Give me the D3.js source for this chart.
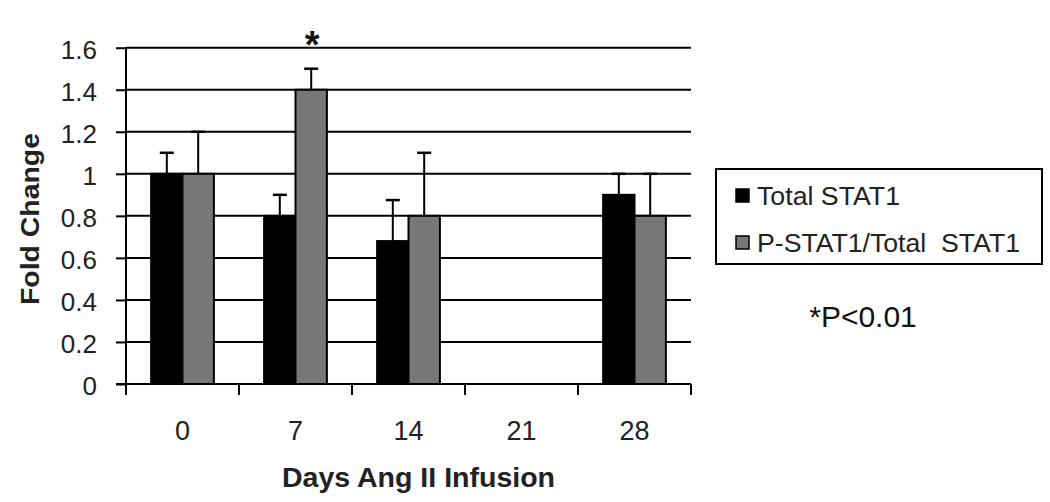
<!DOCTYPE html>
<html>
<head>
<meta charset="utf-8">
<script src="https://cdn.jsdelivr.net/npm/d3@7"></script>
<style>
  body { margin: 0; background: #fff; }
  svg { display: block; font-family: "Liberation Sans", Arial, sans-serif; }
</style>
</head>
<body>
<div id="chart"></div>
<script>
var svgWidth = 1050;
var svgHeight = 502;

var margin = { top: 47.7, right: 359, bottom: 118, left: 126 };
var width = svgWidth - margin.left - margin.right;
var height = svgHeight - margin.top - margin.bottom;

// data
var days = ["0", "7", "14", "21", "28"];
var seriesNames = ["Total STAT1", "P-STAT1/Total  STAT1"];
var totalStat1 = [1.0, 0.8, 0.68, 0, 0.9];
var totalStat1Err = [0.1, 0.1, 0.195, 0, 0.1];
var pStat1 = [1.0, 1.4, 0.8, 0, 0.8];
var pStat1Err = [0.2, 0.1, 0.3, 0, 0.2];
var yTicks = [0, 0.2, 0.4, 0.6, 0.8, 1, 1.2, 1.4, 1.6];
var starDay = "7";

var colors = ["#000000", "#777777"];

var rows = days.map(function(d, i) {
  return {
    day: d,
    values: [
      { s: 0, v: totalStat1[i], e: totalStat1Err[i] },
      { s: 1, v: pStat1[i], e: pStat1Err[i] }
    ]
  };
});

var svg = d3.select("#chart")
  .append("svg")
  .attr("width", svgWidth)
  .attr("height", svgHeight);

var chartGroup = svg.append("g")
  .attr("transform", `translate(${margin.left}, ${margin.top})`);

// scales
var x0 = d3.scaleBand().domain(days).range([0, width]).padding(0);
var x1 = d3.scaleBand().domain([0, 1]).range([0, x0.bandwidth()])
  .paddingInner(0).paddingOuter(0.8);
var y = d3.scaleLinear().domain([0, 1.6]).range([height, 0]);

// gridlines
chartGroup.selectAll(".grid")
  .data(yTicks.filter(d => d > 0))
  .enter()
  .append("line")
  .attr("x1", 0)
  .attr("x2", width)
  .attr("y1", d => y(d))
  .attr("y2", d => y(d))
  .attr("stroke", "#000")
  .attr("stroke-width", 2);

// bars
var groups = chartGroup.selectAll(".day")
  .data(rows)
  .enter()
  .append("g")
  .attr("transform", d => `translate(${x0(d.day)}, 0)`);

groups.selectAll("rect")
  .data(d => d.values.filter(v => v.v > 0))
  .enter()
  .append("rect")
  .attr("x", d => x1(d.s))
  .attr("y", d => y(d.v))
  .attr("width", x1.bandwidth())
  .attr("height", d => height - y(d.v))
  .attr("fill", d => colors[d.s])
  .attr("stroke", "#000")
  .attr("stroke-width", 2);

// error bars (upper only)
var errs = groups.selectAll(".err")
  .data(d => d.values.filter(v => v.e > 0))
  .enter()
  .append("g");

errs.append("line")
  .attr("x1", d => x1(d.s) + x1.bandwidth() / 2)
  .attr("x2", d => x1(d.s) + x1.bandwidth() / 2)
  .attr("y1", d => y(d.v))
  .attr("y2", d => y(d.v + d.e))
  .attr("stroke", "#000")
  .attr("stroke-width", 2);

errs.append("line")
  .attr("x1", d => x1(d.s) + x1.bandwidth() / 2 - 7)
  .attr("x2", d => x1(d.s) + x1.bandwidth() / 2 + 7)
  .attr("y1", d => y(d.v + d.e))
  .attr("y2", d => y(d.v + d.e))
  .attr("stroke", "#000")
  .attr("stroke-width", 2.5);

// y axis
var leftAxis = d3.axisLeft(y)
  .tickValues(yTicks)
  .tickSize(10)
  .tickPadding(19)
  .tickFormat(d3.format("~g"));

var yAxis = chartGroup.append("g").call(leftAxis);
yAxis.select(".domain").attr("stroke", "#000").attr("stroke-width", 2)
  .attr("d", `M0,${height}V0`);
yAxis.selectAll(".tick line").attr("stroke", "#000").attr("stroke-width", 2);
yAxis.selectAll(".tick text")
  .attr("font-size", "26px")
  .attr("font-family", "Liberation Sans, Arial, sans-serif")
  .attr("fill", "#222")
  .attr("dy", "0.4em");

// x axis
var xAxisG = chartGroup.append("g")
  .attr("transform", `translate(0, ${height})`);

xAxisG.append("line")
  .attr("x1", -10).attr("x2", width)
  .attr("stroke", "#000").attr("stroke-width", 2);

xAxisG.selectAll(".xtick")
  .data(days.map(d => x0(d)).concat([width]))
  .enter()
  .append("line")
  .attr("x1", d => d).attr("x2", d => d)
  .attr("y1", 0).attr("y2", 11)
  .attr("stroke", "#000").attr("stroke-width", 2);

xAxisG.selectAll(".xlabel")
  .data(days)
  .enter()
  .append("text")
  .attr("x", d => x0(d) + x0.bandwidth() / 2)
  .attr("y", 56)
  .attr("text-anchor", "middle")
  .attr("font-size", "27px")
  .attr("fill", "#222")
  .text(d => d);

// axis titles
chartGroup.append("text")
  .attr("x", 418.5 - margin.left)
  .attr("y", 487 - margin.top)
  .attr("text-anchor", "middle")
  .attr("font-size", "28px")
  .attr("font-weight", "bold")
  .attr("fill", "#222")
  .attr("textLength", 273)
  .attr("lengthAdjust", "spacingAndGlyphs")
  .text("Days Ang II Infusion");

chartGroup.append("text")
  .attr("transform", "rotate(-90)")
  .attr("x", -(219 - margin.top))
  .attr("y", 39 - margin.left)
  .attr("text-anchor", "middle")
  .attr("font-size", "26px")
  .attr("font-weight", "bold")
  .attr("fill", "#222")
  .attr("textLength", 172)
  .attr("lengthAdjust", "spacingAndGlyphs")
  .text("Fold Change");

// significance star
chartGroup.append("text")
  .attr("x", x0(starDay) + x1(1) + x1.bandwidth() / 2 + 1)
  .attr("y", 58 - margin.top)
  .attr("text-anchor", "middle")
  .attr("font-size", "38px")
  .attr("font-weight", "bold")
  .attr("fill", "#111")
  .text("*");

// legend
var legend = svg.append("g");
legend.append("rect")
  .attr("x", 716).attr("y", 169)
  .attr("width", 326).attr("height", 95)
  .attr("fill", "#fff")
  .attr("stroke", "#000")
  .attr("stroke-width", 2);

var legendLengths = [143, 263];

var items = legend.selectAll(".item")
  .data(seriesNames)
  .enter()
  .append("g")
  .attr("transform", (d, i) => `translate(736, ${189 + i * 47})`);

items.append("rect")
  .attr("width", 13).attr("height", 13)
  .attr("fill", (d, i) => colors[i])
  .attr("stroke", "#000")
  .attr("stroke-width", 1.5);

items.append("text")
  .attr("x", 21)
  .attr("y", 16)
  .attr("font-size", "26px")
  .attr("fill", "#222")
  .attr("textLength", (d, i) => legendLengths[i])
  .attr("lengthAdjust", "spacingAndGlyphs")
  .style("white-space", "pre")
  .text(d => d);

svg.append("text")
  .attr("x", 863)
  .attr("y", 327)
  .attr("text-anchor", "middle")
  .attr("font-size", "30px")
  .attr("fill", "#111")
  .text("*P<0.01");
</script>
</body>
</html>
